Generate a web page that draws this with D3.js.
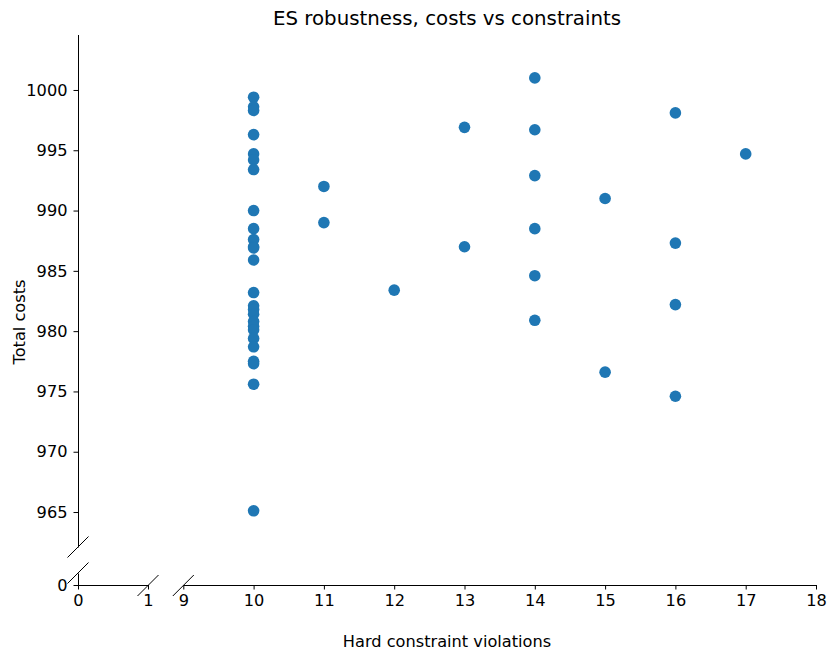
<!DOCTYPE html>
<html>
<head>
<meta charset="utf-8">
<script src="https://cdn.jsdelivr.net/npm/d3@7"></script>
<style>
  body { margin: 0; background: #fff; }
  svg { font-family: "DejaVu Sans", sans-serif; }
</style>
</head>
<body>
<svg id="chart" width="827" height="657"></svg>
<script>
// violations per run, and total costs per run
const violations = [
  10, 10, 10, 10, 10, 10, 10, 10, 10, 10, 10, 10, 10,
  10, 10, 10, 10, 10, 10, 10, 10, 10, 10, 10, 10, 10,
  11, 11, 12, 13, 13,
  14, 14, 14, 14, 14, 14,
  15, 15, 16, 16, 16, 16, 17
];
const costs = [
  999.4, 998.6, 998.3, 996.3, 994.7, 994.2, 993.4, 990.0, 988.5, 987.6, 987.0, 986.9, 985.9,
  983.2, 982.1, 981.8, 981.4, 980.8, 980.4, 980.1, 979.4, 978.7, 977.5, 977.3, 975.6, 965.1,
  992.0, 989.0, 983.4, 996.9, 987.0,
  1001.0, 996.7, 992.9, 988.5, 984.6, 980.9,
  991.0, 976.6, 998.1, 987.3, 982.2, 974.6, 994.7
];
const yTicks = [965, 970, 975, 980, 985, 990, 995, 1000];
const xTicksLeft = [0, 1];
const xTicksRight = [9, 10, 11, 12, 13, 14, 15, 16, 17, 18];

const data = violations.map((v, i) => ({ v, c: costs[i] }));

const svg = d3.select("#chart");

// broken axes: small segment [0,1] on x and [0] on y, main segments for the data
const xLeft = d3.scaleLinear().domain([0, 1]).range([78, 148]);
const xRight = d3.scaleLinear().domain([9, 18]).range([183.3, 816]);
const yTop = d3.scaleLinear().domain([962.1, 1004.6]).range([547, 34.5]);
const yLow = d3.scaleLinear().domain([0, 1]).range([585, 573]);

const fontSize = 16.2;
const fmt = d3.format("d");

function styleAxis(g) {
  g.selectAll("path").attr("stroke", "#000").attr("stroke-width", 1);
  g.selectAll("line").attr("stroke", "#000").attr("stroke-width", 1);
  g.selectAll("text").attr("font-size", fontSize).attr("fill", "#000")
    .attr("font-family", "DejaVu Sans, sans-serif");
}

// y axis, upper part
svg.append("g")
  .attr("transform", "translate(78,0)")
  .call(d3.axisLeft(yTop).tickValues(yTicks).tickFormat(fmt).tickSize(4.5).tickPadding(6).tickSizeOuter(0))
  .call(styleAxis);

// y axis, lower part
svg.append("g")
  .attr("transform", "translate(78,0)")
  .call(d3.axisLeft(yLow).tickValues([0]).tickFormat(fmt).tickSize(4.5).tickPadding(6).tickSizeOuter(0))
  .call(styleAxis);

// x axis, left and right parts
svg.append("g")
  .attr("transform", "translate(0,585)")
  .call(d3.axisBottom(xLeft).tickValues(xTicksLeft).tickFormat(fmt).tickSize(4.5).tickPadding(5).tickSizeOuter(0))
  .call(styleAxis);

svg.append("g")
  .attr("transform", "translate(0,585)")
  .call(d3.axisBottom(xRight).tickValues(xTicksRight).tickFormat(fmt).tickSize(4.5).tickPadding(5).tickSizeOuter(0))
  .call(styleAxis);

// break marks
const d = 10.5;
const breaks = [
  [78, yTop.range()[0]],
  [78, yLow.range()[1]],
  [xLeft.range()[1], 585.5],
  [xRight.range()[0], 585.5]
];
svg.append("g").selectAll("line")
  .data(breaks)
  .join("line")
  .attr("x1", b => b[0] - d)
  .attr("y1", b => b[1] + d)
  .attr("x2", b => b[0] + d)
  .attr("y2", b => b[1] - d)
  .attr("stroke", "#000")
  .attr("stroke-width", 1);

// points
svg.append("g").selectAll("circle")
  .data(data)
  .join("circle")
  .attr("cx", p => xRight(p.v))
  .attr("cy", p => yTop(p.c))
  .attr("r", 5.8)
  .attr("fill", "#1f77b4");

// title and labels
svg.append("text")
  .attr("x", 447)
  .attr("y", 25)
  .attr("text-anchor", "middle")
  .attr("font-size", 19.8)
  .text("ES robustness, costs vs constraints");

svg.append("text")
  .attr("x", 447)
  .attr("y", 647)
  .attr("text-anchor", "middle")
  .attr("font-size", fontSize)
  .text("Hard constraint violations");

svg.append("text")
  .attr("transform", "translate(25,322) rotate(-90)")
  .attr("text-anchor", "middle")
  .attr("font-size", fontSize)
  .text("Total costs");
</script>
</body>
</html>
